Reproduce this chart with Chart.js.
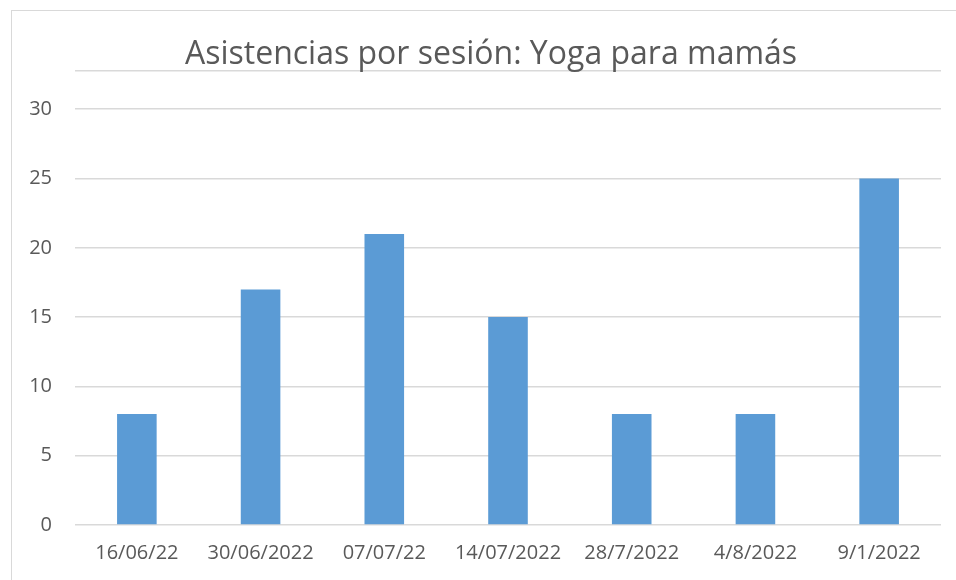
<!DOCTYPE html>
<html>
<head>
<meta charset="utf-8">
<script src="https://cdn.jsdelivr.net/npm/chart.js@4/dist/chart.umd.min.js"></script>
<style>
    html, body { margin: 0; padding: 0; background: #fff; }
    #wrap { width: 956px; height: 580px; position: relative; }
</style>
</head>
<body>
<div id="wrap"><canvas id="chart"></canvas></div>
<script>
// Datos del gráfico
const sesiones = ['16/06/22', '30/06/2022', '07/07/22', '14/07/2022', '28/7/2022', '4/8/2022', '9/1/2022'];
const asistencias = [8, 17, 21, 15, 8, 8, 25];
const yTicks = [0, 5, 10, 15, 20, 25, 30];
const yTop = 32.8; // línea superior del área de trazado

const textColor = '#595959';
const gridColor = '#D9D9D9';

// marco exterior del gráfico + dejar que las etiquetas del eje y salgan de su caja
const frame = {
    id: 'frame',
    afterLayout(chart) {
        chart.scales.y.left = 0;
    },
    beforeDraw(chart) {
        const ctx = chart.ctx;
        ctx.save();
        ctx.fillStyle = '#fff';
        ctx.fillRect(0, 0, chart.width, chart.height);
        ctx.strokeStyle = gridColor;
        ctx.lineWidth = 1;
        ctx.strokeRect(11.5, 10.5, chart.width + 20, chart.height + 20);
        ctx.restore();
    }
};

new Chart(document.getElementById('chart'), {
    type: 'bar',
    data: {
        labels: sesiones,
        datasets: [{
            label: 'Asistencias',
            data: asistencias,
            backgroundColor: '#5B9BD5',
            categoryPercentage: 1,
            barPercentage: 0.32
        }]
    },
    options: {
        responsive: true,
        maintainAspectRatio: false,
        animation: false,
        layout: { padding: { top: 32, left: 41, right: 15, bottom: -1 } },
        plugins: {
            legend: { display: false },
            tooltip: { enabled: false },
            title: {
                display: true,
                text: 'Asistencias por sesión: Yoga para mamás',
                color: textColor,
                font: { family: 'Open Sans', size: 32, weight: 'normal' },
                padding: { top: 4, bottom: -4 }
            }
        },
        scales: {
            x: {
                grid: { display: false, drawTicks: false },
                border: { display: false },
                ticks: {
                    color: textColor,
                    font: { family: 'Open Sans', size: 20 },
                    padding: 16,
                    maxRotation: 0,
                    autoSkip: false
                }
            },
            y: {
                min: 0,
                max: yTop,
                afterBuildTicks: (scale) => {
                    scale.ticks = yTicks.concat([yTop]).map(v => ({ value: v }));
                },
                afterFit: (scale) => { scale.width = 34; },
                grid: { color: gridColor, lineWidth: 1.5, drawTicks: false },
                border: { display: false },
                ticks: {
                    color: textColor,
                    font: { family: 'Open Sans', size: 20 },
                    padding: 23,
                    callback: (v) => (yTicks.includes(v) ? v : '')
                }
            }
        }
    },
    plugins: [frame]
});
</script>
</body>
</html>
